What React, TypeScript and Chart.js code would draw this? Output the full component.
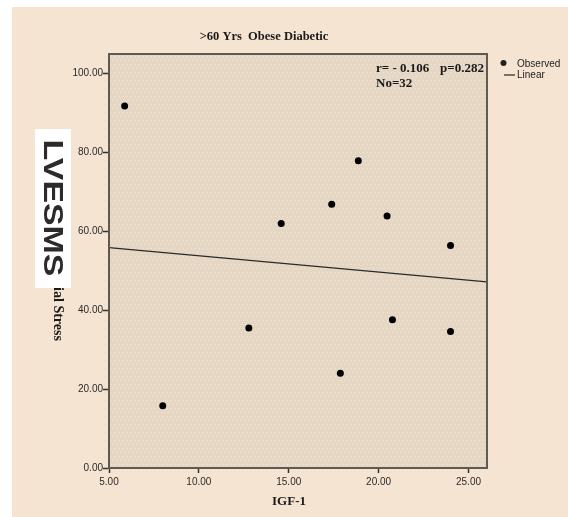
import React, { useEffect, useRef } from "react";
import { Chart, registerables } from "chart.js";

Chart.register(...registerables);

const observedX = [5.87, 7.99, 12.78, 14.58, 17.39, 18.87, 17.87, 20.47, 20.77, 24.0, 24.0];
const observedY = [91.8, 15.8, 35.5, 62.0, 66.9, 77.9, 24.0, 63.9, 37.6, 56.4, 34.6];
const linearX = [5, 26.03];
const linearY = [55.9, 47.2];
const xTicks = [5, 10, 15, 20, 25];
const yTicks = [0, 20, 40, 60, 80, 100];

const titleText = ">60 Yrs  Obese Diabetic";
const xTitle = "IGF-1";
const yTitleBox = "LVESMS";
const yTitleRest = "ial Stress";
const statR = "r= - 0.106";
const statP = "p=0.282";
const statN = "No=32";

const decorPlugin = {
  id: "decor",
  beforeDraw(chart: any) {
    const ctx = chart.ctx;
    const { width, height, chartArea } = chart;
    ctx.save();
    ctx.fillStyle = "#ffffff";
    ctx.fillRect(0, 0, width, height);
    ctx.fillStyle = "#f5e4d1";
    ctx.fillRect(12, 7, width - 12, height - 7);
    ctx.fillStyle = "#e6d7c5";
    ctx.fillRect(chartArea.left, chartArea.top, chartArea.right - chartArea.left, chartArea.bottom - chartArea.top);
    ctx.fillStyle = "rgba(255,255,255,0.35)";
    for (let y = chartArea.top + 2; y < chartArea.bottom; y += 4) {
      const off = ((y / 4) % 2) * 2;
      for (let x = chartArea.left + 2 + off; x < chartArea.right; x += 4) {
        ctx.fillRect(x, y, 1, 1);
      }
    }
    ctx.restore();
  },
  afterDraw(chart: any) {
    const ctx = chart.ctx;
    const { chartArea } = chart;
    ctx.save();
    ctx.strokeStyle = "#5e5953";
    ctx.lineWidth = 2;
    ctx.strokeRect(chartArea.left, chartArea.top, chartArea.right - chartArea.left, chartArea.bottom - chartArea.top);

    ctx.fillStyle = "#1a1a1a";
    ctx.textBaseline = "middle";
    ctx.textAlign = "center";
    ctx.font = "bold 12.5px 'Liberation Serif'";
    ctx.fillText(titleText, 264, 37);
    ctx.font = "bold 13px 'Liberation Serif'";
    ctx.fillText(xTitle, 289, 502);

    ctx.textAlign = "left";
    ctx.font = "bold 13px 'Liberation Serif'";
    ctx.fillText(statR, 376, 69);
    ctx.fillText(statP, 440, 69);
    ctx.fillText(statN, 376, 84);

    ctx.font = "10px 'Liberation Sans'";
    ctx.fillStyle = "#222";
    ctx.beginPath();
    ctx.arc(503.5, 63, 3, 0, Math.PI * 2);
    ctx.fill();
    ctx.fillText("Observed", 517, 64);
    ctx.strokeStyle = "#222";
    ctx.lineWidth = 1.2;
    ctx.beginPath();
    ctx.moveTo(504, 75);
    ctx.lineTo(515, 75);
    ctx.stroke();
    ctx.fillText("Linear", 517, 75.5);

    ctx.save();
    ctx.translate(58, 314);
    ctx.rotate(Math.PI / 2);
    ctx.textAlign = "center";
    ctx.font = "bold 14px 'Liberation Serif'";
    ctx.fillStyle = "#1a1a1a";
    ctx.fillText(yTitleRest, 0, 0);
    ctx.restore();

    ctx.fillStyle = "#ffffff";
    ctx.fillRect(35, 129, 36, 159);
    ctx.save();
    ctx.translate(53, 208);
    ctx.rotate(Math.PI / 2);
    ctx.scale(1.21, 1);
    ctx.textAlign = "center";
    ctx.font = "bold 28px 'Liberation Sans'";
    ctx.fillStyle = "#2b2b2b";
    ctx.filter = "blur(0.5px)";
    ctx.fillText(yTitleBox, 0, 1);
    ctx.restore();
    ctx.restore();
  },
};

export default function App() {
  const ref = useRef<HTMLCanvasElement | null>(null);
  useEffect(() => {
    if (!ref.current) return;
    const chart = new Chart(ref.current, {
      type: "scatter",
      data: {
        datasets: [
          {
            label: "Observed",
            data: observedX.map((x, i) => ({ x, y: observedY[i] })),
            backgroundColor: "#000",
            borderColor: "#000",
            pointRadius: 3.5,
            pointBorderWidth: 0,
          },
          {
            type: "line" as any,
            label: "Linear",
            data: linearX.map((x, i) => ({ x, y: linearY[i] })),
            borderColor: "#2a2a2a",
            borderWidth: 1.3,
            pointRadius: 0,
            fill: false,
          },
        ],
      },
      options: {
        animation: false,
        responsive: false,
        events: [],
        layout: { padding: { left: 0, top: 54, right: 81, bottom: 0 } },
        plugins: { legend: { display: false }, title: { display: false }, tooltip: { enabled: false } },
        scales: {
          x: {
            type: "linear",
            min: 5,
            max: 26.03,
            afterFit: (s: any) => { s.height = 49; },
            afterBuildTicks: (s: any) => { s.ticks = xTicks.map((v) => ({ value: v })); },
            ticks: {
              callback: (v: any) => Number(v).toFixed(2),
              color: "#2a2a2a",
              font: { family: "'Liberation Sans'", size: 10 },
              padding: 3,
              maxRotation: 0,
            },
            grid: { drawOnChartArea: false, drawTicks: true, tickLength: 5, color: "#333", tickColor: "#333", tickWidth: 1.5 },
            border: { display: true, color: "#5e5953", width: 2 },
          },
          y: {
            type: "linear",
            min: 0,
            max: 105,
            afterFit: (s: any) => { s.width = 109; },
            afterBuildTicks: (s: any) => { s.ticks = yTicks.map((v) => ({ value: v })); },
            ticks: {
              callback: (v: any) => Number(v).toFixed(2),
              color: "#2a2a2a",
              font: { family: "'Liberation Sans'", size: 10 },
              padding: 0,
            },
            grid: { drawOnChartArea: false, drawTicks: true, tickLength: 6, color: "#333", tickColor: "#333", tickWidth: 1.5 },
            border: { display: true, color: "#5e5953", width: 2 },
          },
        },
      },
      plugins: [decorPlugin],
    });
    return () => chart.destroy();
  }, []);
  return (
    <div style={{ position: "fixed", left: 0, top: 0, width: 568, height: 517 }}>
      <canvas ref={ref} width={568} height={517} style={{ display: "block" }} />
    </div>
  );
}
